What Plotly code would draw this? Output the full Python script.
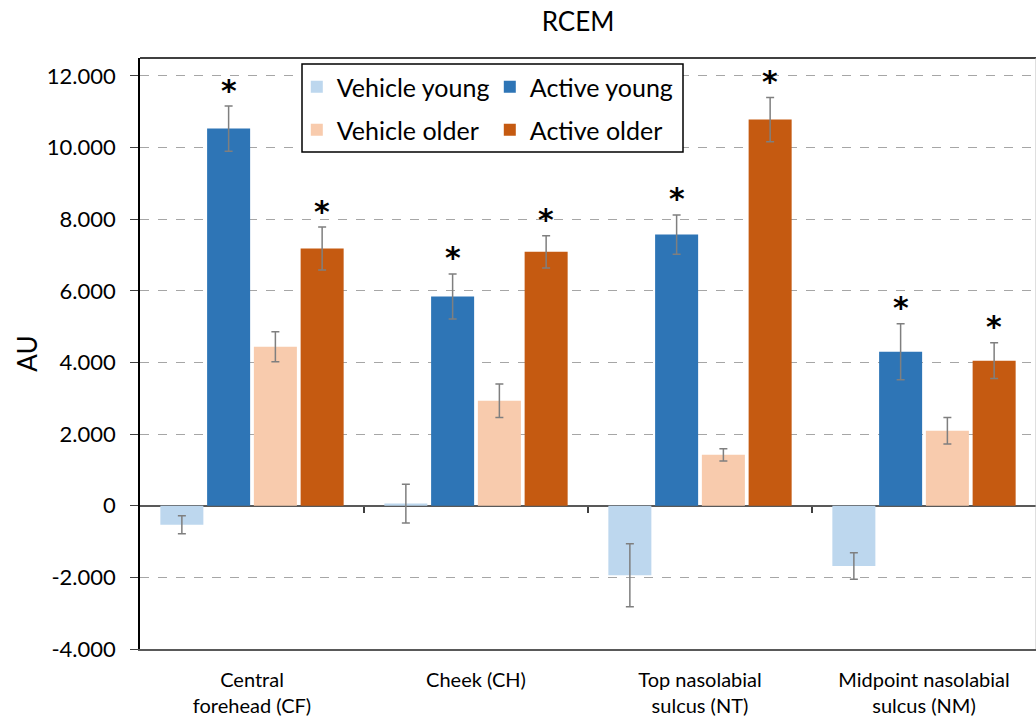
import plotly.graph_objects as go

categories = ["Central<br>forehead (CF)", "Cheek (CH)", "Top nasolabial<br>sulcus (NT)", "Midpoint nasolabial<br>sulcus (NM)"]
series_names = ["Vehicle young", "Active young", "Vehicle older", "Active older"]
vehicle_young = [-530, 60, -1940, -1680]
vehicle_young_err = [250, 540, 880, 370]
active_young = [10530, 5840, 7570, 4300]
active_young_err = [630, 630, 550, 780]
vehicle_older = [4440, 2930, 1420, 2090]
vehicle_older_err = [420, 470, 170, 370]
active_older = [7180, 7090, 10780, 4050]
active_older_err = [600, 450, 620, 500]
significant = {"Active young": [True, True, True, True], "Active older": [True, True, True, True]}
y_tickvals = [-4000, -2000, 0, 2000, 4000, 6000, 8000, 10000, 12000]
y_ticktext = ["-4.000", "-2.000", "0", "2.000", "4.000", "6.000", "8.000", "10.000", "12.000"]

colors = ["#BDD7EE", "#2E75B6", "#F8CBAD", "#C55A11"]
values = [vehicle_young, active_young, vehicle_older, active_older]
errors = [vehicle_young_err, active_young_err, vehicle_older_err, active_older_err]
legends = ["legend", "legend", "legend2", "legend2"]

FONT = "Lato"
bargap = 0.165
bargroupgap = 0.08

fig = go.Figure()
for name, vals, errs, col, lg in zip(series_names, values, errors, colors, legends):
    fig.add_trace(go.Bar(
        name=name, x=categories, y=vals, marker_color=col, marker_line_width=0,
        error_y=dict(type="data", array=errs, visible=True, color="#7F7F7F", thickness=1.5, width=4),
        legend=lg,
    ))

# asterisks above the significant active bars
n = len(series_names)
slot = (1 - bargap) / n
for si, name in enumerate(series_names):
    if name not in significant:
        continue
    for ci in range(len(categories)):
        if significant[name][ci]:
            off = -(1 - bargap) / 2 + slot * (si + 0.5)
            top = values[si][ci] + errors[si][ci]
            fig.add_annotation(x=ci + off, y=top, xref="x", yref="y", text="<b>*</b>",
                               showarrow=False, yanchor="middle", yshift=16,
                               font=dict(family="DejaVu Sans", size=30, color="#000000"))

# second axis to draw category-boundary ticks on the zero line
fig.add_trace(go.Scatter(x=[None], y=[None], xaxis="x2", showlegend=False))

ymin, ymax = -4000, 12500
fig.update_layout(
    width=1036, height=726,
    margin=dict(l=140, r=0, t=58, b=77),
    paper_bgcolor="white", plot_bgcolor="white",
    barmode="group", bargap=bargap, bargroupgap=bargroupgap,
    font=dict(family=FONT, color="#000000"),
    title=dict(text="RCEM", x=578 / 1036, xanchor="center", y=1 - 22 / 726, yanchor="middle",
               font=dict(family=FONT, size=26, color="#000000")),
    xaxis=dict(type="category", showgrid=False, ticks="", showline=True, linecolor="#595959",
               linewidth=1.5, tickfont=dict(family=FONT, size=20, color="#000000"),
               ticklabelstandoff=12, mirror=False, range=[-0.5, 3.5], automargin=False),
    xaxis2=dict(overlaying="x", range=[-0.5, 3.5], anchor="free",
                position=(0 - ymin) / (ymax - ymin), tickvals=[0.5, 1.5, 2.5],
                ticks="outside", ticklen=6, tickwidth=1.5, tickcolor="#404040",
                showticklabels=False, showgrid=False, showline=False, zeroline=False,
                automargin=False),
    yaxis=dict(range=[ymin, ymax], tickvals=y_tickvals, ticktext=y_ticktext,
               showgrid=True, gridcolor="#A6A6A6", griddash="dash", gridwidth=1,
               zeroline=True, zerolinecolor="#595959", zerolinewidth=1.5,
               showline=True, linecolor="#000000", linewidth=1.5,
               ticks="outside", ticklen=8, tickcolor="#404040", automargin=False,
               ticklabelstandoff=10,
               tickfont=dict(family=FONT, size=22, color="#000000"),
               title=dict(text="AU", font=dict(family=FONT, size=26, color="#000000"), standoff=2)),
    legend=dict(orientation="h", x=0.175, xanchor="left", y=(649 - 87) / 591, yanchor="middle",
                bgcolor="rgba(0,0,0,0)", borderwidth=0, entrywidth=148,
                font=dict(family=FONT, size=25, color="#000000"), traceorder="normal"),
    legend2=dict(orientation="h", x=0.175, xanchor="left", y=(649 - 130) / 591, yanchor="middle",
                 bgcolor="rgba(0,0,0,0)", borderwidth=0, entrywidth=148,
                 font=dict(family=FONT, size=25, color="#000000"), traceorder="normal"),
    shapes=[
        dict(type="rect", xref="paper", yref="paper",
             x0=(302 - 140) / 896, x1=(683 - 140) / 896,
             y0=(649 - 152) / 591, y1=(649 - 64) / 591,
             line=dict(color="#000000", width=1.5), fillcolor="white", layer="above"),
        dict(type="line", xref="paper", yref="paper", x0=0, x1=1, y0=1, y1=1,
             line=dict(color="#000000", width=1.5)),
        dict(type="line", xref="paper", yref="paper", x0=1, x1=1, y0=0, y1=1,
             line=dict(color="#BFBFBF", width=1)),
    ],
)

fig.write_html("out.html", config={"displayModeBar": False},
               post_script="document.body.style.margin='0';document.body.style.padding='0';")
